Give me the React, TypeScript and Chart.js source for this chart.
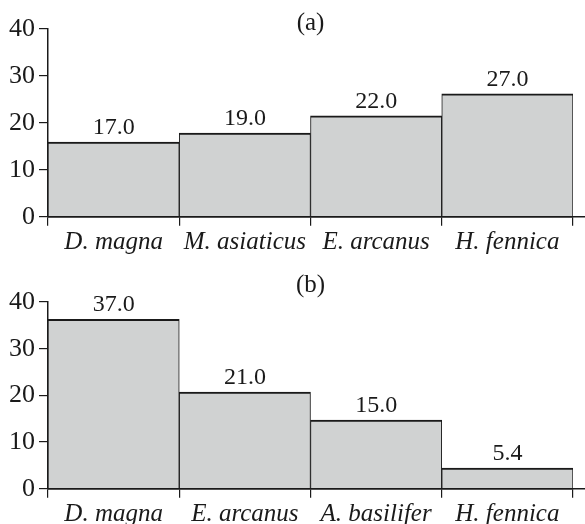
import React, { useEffect, useRef } from "react";
import { Chart, registerables } from "chart.js";

Chart.register(...registerables);

const categoriesA = ["D. magna", "M. asiaticus", "E. arcanus", "H. fennica"];
const valuesA = [15.9, 17.8, 21.5, 26.2];
const labelsA = ["17.0", "19.0", "22.0", "27.0"];

const categoriesB = ["D. magna", "E. arcanus", "A. basilifer", "H. fennica"];
const valuesB = [36.3, 20.7, 14.7, 4.4];
const labelsB = ["37.0", "21.0", "15.0", "5.4"];

const yTicks = [0, 10, 20, 30, 40];

const SERIF = '"Liberation Serif", "Times New Roman", serif';
const INK = "#1a1a1a";
const FILL = "#d0d2d2";

type PanelProps = {
  title: string;
  categories: string[];
  values: number[];
  labels: string[];
  height: number;
  top: number;
  bottom: number;
  titleBaseline: number;
};

function Panel(props: PanelProps) {
  const ref = useRef<HTMLCanvasElement | null>(null);
  useEffect(() => {
    if (!ref.current) return;
    const { title, categories, values, labels, height, top, bottom, titleBaseline } = props;
    const panelPlugin = {
      id: "panelDecor",
      afterDatasetsDraw(chart: any) {
        const ctx = chart.ctx;
        const meta = chart.getDatasetMeta(0);
        ctx.save();
        ctx.fillStyle = INK;
        ctx.font = `24px ${SERIF}`;
        ctx.textAlign = "center";
        ctx.textBaseline = "alphabetic";
        meta.data.forEach((bar: any, i: number) => {
          ctx.fillText(labels[i], bar.x, bar.y - 8);
        });
        ctx.restore();
      },
      afterDraw(chart: any) {
        const ctx = chart.ctx;
        const ca = chart.chartArea;
        ctx.save();
        ctx.strokeStyle = INK;
        ctx.lineWidth = 1.5;
        ctx.beginPath();
        ctx.moveTo(ca.left, ca.bottom);
        ctx.lineTo(chart.width, ca.bottom);
        ctx.stroke();
        ctx.fillStyle = INK;
        ctx.font = `25px ${SERIF}`;
        ctx.textAlign = "center";
        ctx.textBaseline = "alphabetic";
        ctx.fillText(title, (ca.left + ca.right) / 2, titleBaseline);
        ctx.restore();
      },
    };
    const chart = new Chart(ref.current, {
      type: "bar",
      data: {
        labels: categories,
        datasets: [
          {
            data: values,
            backgroundColor: FILL,
            borderColor: INK,
            borderWidth: { top: 2, left: 1, right: 1, bottom: 0 },
            borderSkipped: false,
            categoryPercentage: 1,
            barPercentage: 1,
          },
        ],
      },
      options: {
        animation: false,
        responsive: false,
        devicePixelRatio: 1,
        layout: { padding: { top: top, right: 12, left: 0, bottom: 0 } },
        plugins: {
          legend: { display: false },
          tooltip: { enabled: false },
          title: { display: false },
        },
        scales: {
          x: {
            grid: {
              offset: true,
              drawOnChartArea: false,
              drawTicks: true,
              tickLength: 9,
              color: INK,
              lineWidth: 1.2,
            },
            border: { display: true, color: INK, width: 1.5 },
            ticks: {
              color: INK,
              padding: 2,
              maxRotation: 0,
              autoSkip: false,
              font: { family: SERIF, size: 25, style: "italic" },
            },
            afterFit(scale: any) {
              scale.height = height - bottom;
            },
          },
          y: {
            min: 0,
            max: 40,
            afterBuildTicks(scale: any) {
              scale.ticks = yTicks.map((v) => ({ value: v }));
            },
            grid: {
              drawOnChartArea: false,
              drawTicks: true,
              tickLength: 9,
              color: INK,
              lineWidth: 1.2,
            },
            border: { display: true, color: INK, width: 1.5 },
            ticks: {
              color: INK,
              padding: 4,
              font: { family: SERIF, size: 26 },
            },
            afterFit(scale: any) {
              scale.width = 48;
            },
          },
        },
      },
      plugins: [panelPlugin],
    });
    return () => chart.destroy();
  }, []);
  return (
    <canvas
      ref={ref}
      width={585}
      height={props.height}
      style={{ display: "block", width: 585, height: props.height }}
    />
  );
}

export default function App() {
  return (
    <div style={{ position: "absolute", left: 0, top: 0, width: 585, height: 524, background: "#fff" }}>
      <Panel
        title="(a)"
        categories={categoriesA}
        values={valuesA}
        labels={labelsA}
        height={260}
        top={29}
        bottom={216.7}
        titleBaseline={30}
      />
      <Panel
        title="(b)"
        categories={categoriesB}
        values={valuesB}
        labels={labelsB}
        height={264}
        top={42}
        bottom={228.7}
        titleBaseline={32}
      />
    </div>
  );
}
